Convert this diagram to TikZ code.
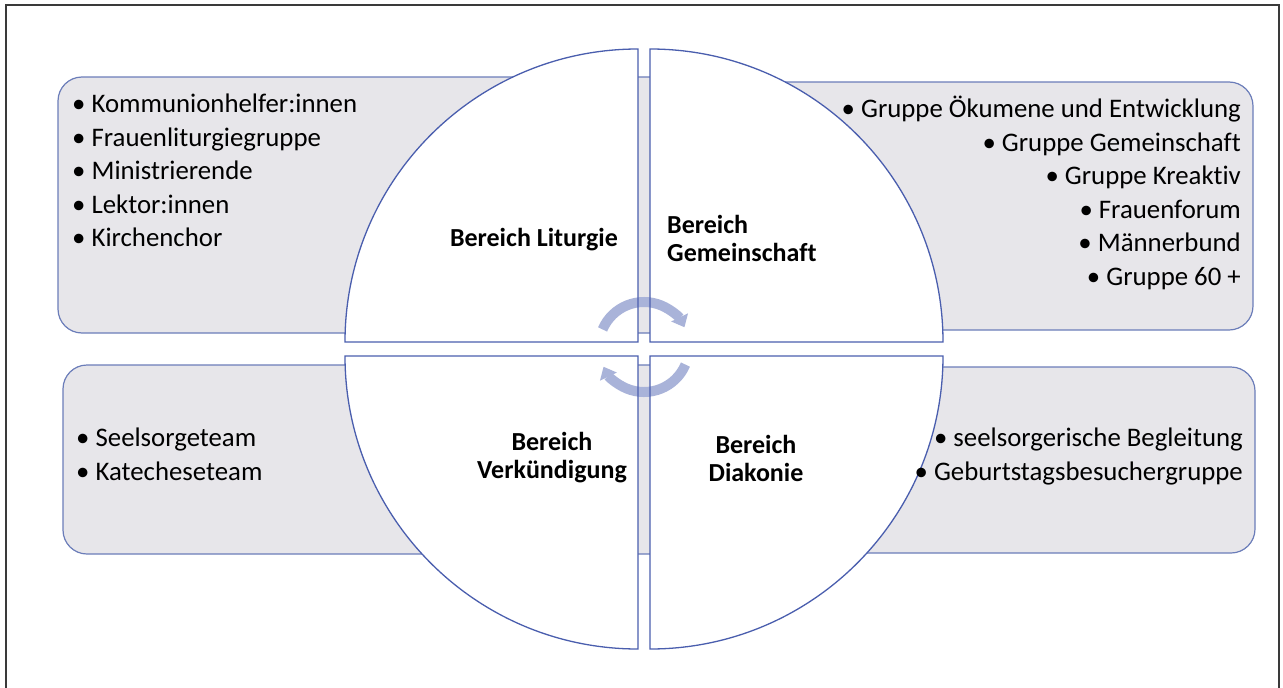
\documentclass[tikz,border=0pt]{standalone}
\usepackage{fontspec}
\setmainfont{Carlito}[Ligatures=NoCommon]
\usepackage{tikz}
\usetikzlibrary{arrows.meta, positioning}
\definecolor{quadblue}{HTML}{4A5EAE}
\definecolor{boxedge}{HTML}{6B7DB9}
\definecolor{boxgray}{HTML}{E7E6EA}
\definecolor{turnblue}{HTML}{A9B3D9}
\definecolor{framegray}{HTML}{3A3A3A}

\begin{document}
\begin{tikzpicture}[x=1pt, y=-1pt,
    groupbox/.style={draw=boxedge, fill=boxgray, line width=1.2pt, rounded corners=24pt},
    quarter/.style={draw=quadblue, line width=1.3pt},
    turnarrow/.style={turnblue, line width=10pt, -{Triangle[width=18pt,length=11pt]}},
    itemlist/.style={inner sep=0pt, font=\fontsize{26.8}{33.5}\selectfont},
    areaname/.style={inner sep=0pt, font=\fontsize{26}{28}\selectfont\bfseries}]

    \useasboundingbox (0,0) rectangle (1283,688);
    \draw[framegray, line width=1.5pt] (6,688) -- (6,5) -- (1279,5) -- (1279,688);

    % side boxes behind the circle
    \path[groupbox] (600,82) rectangle (1253,330);
    \path[groupbox] (58,77) rectangle (700,333);
    \path[groupbox] (600,367) rectangle (1255,553);
    \path[groupbox] (63,365) rectangle (700,554);

    % four quarters of the circle
    \foreach \qx/\qy/\ex/\ey/\sa/\ea in {638/342/345/342/180/90, 650/342/650/49/90/0, 638/356/345/356/180/270, 650/356/943/356/0/-90}
        \fill[white] (\qx,\qy) -- (\ex,\ey) arc[start angle=\sa, end angle=\ea, radius=293pt] -- cycle;

    \coordinate (hub) at (644,347);
    \draw[turnarrow] ([shift={(157:45pt)}]hub) arc[start angle=157, end angle=26, radius=45pt];
    \draw[turnarrow] ([shift={(-23:45pt)}]hub) arc[start angle=-23, end angle=-154, radius=45pt];

    \foreach \qx/\qy/\ex/\ey/\sa/\ea in {638/342/345/342/180/90, 650/342/650/49/90/0, 638/356/345/356/180/270, 650/356/943/356/0/-90}
        \draw[quarter] (\qx,\qy) -- (\ex,\ey) arc[start angle=\sa, end angle=\ea, radius=293pt] -- cycle;

    % names of the four areas
    \node[areaname] (liturgy) at (534,240) {Bereich Liturgie};
    \node[areaname, anchor=west, align=left] (community) at (667,238) {Bereich\\Gemeinschaft};
    \node[areaname, align=center] (proclamation) at (552,458) {Bereich\\Verkündigung};
    \node[areaname, align=center] (diakonia) at (756,458) {Bereich\\Diakonie};

    % groups
    \node[itemlist, anchor=north west, align=left] (liturgygroups) at (72,94) {• Kommunionhelfer:innen\\• Frauenliturgiegruppe\\• Ministrierende\\• Lektor:innen\\• Kirchenchor};
    \node[itemlist, anchor=north east, align=right] (communitygroups) at (1241,96) {• Gruppe Ökumene und Entwicklung\\• Gruppe Gemeinschaft\\• Gruppe Kreaktiv\\• Frauenforum\\• Männerbund\\• Gruppe 60 +};
    \node[itemlist, anchor=north west, align=left] (proclamationgroups) at (76,428) {• Seelsorgeteam\\• Katecheseteam};
    \node[itemlist, anchor=north east, align=right] (diakoniagroups) at (1243,428) {• seelsorgerische Begleitung\\• Geburtstagsbesuchergruppe};
\end{tikzpicture}
\end{document}
